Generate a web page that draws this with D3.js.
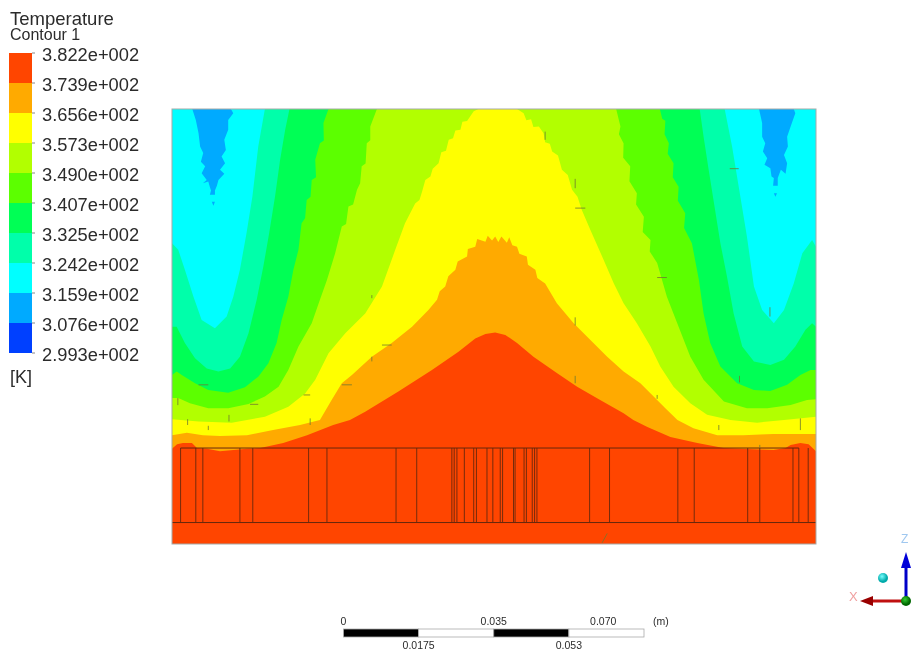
<!DOCTYPE html>
<html>
<head>
<meta charset="utf-8">
<script src="https://cdn.jsdelivr.net/npm/d3@7"></script>
<style>
  html, body { margin: 0; padding: 0; background: #fff; overflow: hidden; }
  svg { display: block; font-family: 'Liberation Sans', Arial, sans-serif; }
</style>
</head>
<body>
<script>
// legend levels, hottest first
const levelLabels = ['3.822e+002', '3.739e+002', '3.656e+002', '3.573e+002', '3.490e+002',
  '3.407e+002', '3.325e+002', '3.242e+002', '3.159e+002', '3.076e+002', '2.993e+002']

const iso3242 = [[0,77.1],[1.6,75.4],[3.3,70.3],[5.5,63.4],[7.6,57.4],[11,55.3],[14,58.3],[15.7,63.4],[17.4,70.3],[19.1,79.7],[20.6,89.1],[22.1,101.9],[23.8,111.5],
  [141.6,111.5],[143.5,101.9],[145.2,91.6],[147.3,78.8],[149.1,66],[151.2,60],[154.2,56.6],[156.8,60],[159.3,66.8],[161.5,74.5],[164,77.9],[165,76.2]]
const iso3325 = [[0,55.7],[1.2,55.7],[3.3,51.5],[5.9,47.6],[8.9,45],[11.9,44.2],[14.9,45],[17.4,48],[19.6,54],[21.7,62.6],[23.4,71.1],[24.9,79.7],[26.4,89.1],[27.7,98.5],[29,106.2],[30.1,111.5],
  [135.2,111.5],[136.2,104.4],[137.5,95.9],[139,86.5],[140.5,77.1],[142.2,68.5],[143.9,59.1],[146.1,50.6],[149.1,46.8],[153.3,45.9],[156.8,47.2],[159.7,50.6],[162.3,54.9],[164,56.6],[165,55.7]]
const iso3407 = [[0,43.3],[1.2,44.2],[2.5,43.3],[5.9,41.2],[9.3,39.5],[14.4,38.8],[18.7,40.2],[22.1,42.9],[24.7,46.3],[26.8,51.5],[28.1,57.4],[29.8,63.4],[31.1,70.3],[32.4,75.4],[33.2,82.2],[34.1,83.5],[34.5,88.2],[35.5,89],[35.8,93.3],[36.9,94],[36.7,98.5],[37.9,102.7],[38.9,103.4],[38.8,107.9],[40.1,111.5],
  [125,111.5],[125.6,109],[126.4,108.5],[126.2,105],[127.3,102.7],[127,100],[128.5,97.6],[128.3,94],[129.8,91.6],[129.6,88],[131.5,84.8],[131.2,81],[133.2,77.1],[135,67.7],[136.2,59.1],[137.9,51.5],[140.5,45.5],[144.8,41.2],[149.1,39.5],[153.3,39.2],[157.6,40.8],[161,43.3],[163.6,44.6],[165,44.6]]
const iso3490 = [[0,37.4],[1.6,37.4],[4.6,36.1],[9.3,34.8],[14.4,34.8],[19.6,35.9],[23.8,37.8],[27.3,40.3],[29.8,44.6],[32.4,50.6],[35.8,56.6],[37.9,62.6],[39.7,67.7],[41.8,74.5],[43.5,81.4],[44.6,82],[45.2,86.5],[46.4,87],[47.4,90.8],[48.2,92.5],[48.6,96.8],[49.6,97.5],[49.9,102.7],[50.8,103.5],[50.8,107],[52.5,111.5],
  [113.8,111.5],[114.9,107],[114.5,105],[115.7,102.7],[115.6,99],[117.4,96.8],[117.2,93],[119.1,89.9],[118.9,87],[120.9,83.9],[120.6,80],[122.6,77.9],[122.4,75],[124.3,72],[126.8,63.4],[129.8,55.7],[132.8,48],[136.2,42.1],[141.4,36.5],[147.3,34.8],[152.5,34.8],[158.5,35.6],[162.7,36.9],[165,37.1]]
const iso3573 = [[0,32],[6.8,31.4],[15.3,31.1],[23.8,32.6],[29.8,35.2],[34.1,38.6],[36.7,42.1],[40.1,48.9],[44.4,54],[49.5,59.1],[53.8,66],[57.2,75.4],[59.7,82.2],[62.3,87.3],[63.4,88.2],[64.1,90.4],[64.9,93.3],[66.2,94.2],[66.8,96.2],[68.3,97.6],[69,100.4],[70.2,100.8],[70.9,103.6],[72,104],[72.6,106],[73.9,106.2],[74.4,108.2],[75.6,108.4],[77.3,110.9],[78.5,111.5],
  [88.4,111.5],[90.1,110.4],[90.8,108.6],[92,108.9],[92.6,106.9],[94,107],[95.2,105.3],[95.6,103],[96.8,102.6],[97.4,100.6],[98.9,99.6],[99.9,95.9],[101.4,94.6],[102.5,90.8],[103.9,89],[105,85.6],[107.2,80.5],[110.6,72.8],[113.2,66.8],[115.7,61.7],[119.1,56.6],[122.6,50.6],[125.1,45.5],[128.5,40.3],[132.8,36.1],[137.1,33.1],[143.1,31.8],[149.9,31.1],[156.8,31.8],[165,32.6]]
const iso3656 = [[0,27.9],[3.8,28.5],[7.9,27.9],[12.3,27.7],[19.2,27.9],[25.9,29.2],[32.8,30.5],[37.9,31.8],[40.9,36.9],[43.5,41.2],[46.1,43.3],[51.2,48],[56.3,51.5],[61.5,55.7],[65.7,60],[67.9,62.6],[68.6,64.8],[70,66],[70.8,68.6],[72.6,70.3],[73.2,72.4],[75.6,73.7],[75.8,75.6],[77.7,76.2],[78.2,78.2],[80.3,77.5],[80.9,79],[82,77.8],[82.8,78.8],
  [83.6,77.4],[84.4,78.8],[85.8,77.2],[86.4,78.6],[87.2,76.6],[88.4,76.2],[89,74.4],[90.9,73.7],[91.2,71.6],[93.1,70.3],[93.6,68.2],[95.6,66.8],[98.6,61.7],[102.9,56.6],[107.2,52.3],[111.5,48],[115.7,44.2],[120,41.2],[123.4,37.8],[126.4,34.8],[129.5,31.8],[133.6,29.7],[139.7,27.9],[146.4,27.9],[154.1,28.2],[165,28.2]]
const iso3739 = [[0,24.4],[1.3,25.6],[2.8,25.9],[5.1,25.9],[6.4,24.6],[9,24.4],[12.3,23.8],[19.2,24.4],[22.6,24.6],[28.5,25.9],[34.6,27.9],[41.3,30.5],[45.6,31.8],[49.5,33.9],[58,39.1],[66.6,44.6],[73.4,49.3],[77.7,52.7],[80.3,53.8],[82.8,54.2],
  [85.4,53.6],[88.4,51.5],[92.6,48],[98.6,43.8],[103.8,40.3],[109.7,36.9],[115.7,33.5],[118.2,31.8],[121.8,30],[127.7,27.4],[134.6,25.9],[141.3,24.6],[145.6,24.4],[154.1,24.1],[157.2,24.6],[158.5,25.4],[161,25.9],[163.1,25.6],[165,23.8]]

// the cold pockets under the top edge and the specks below their tips
const pocketLeft = [[5.2,111.5],[6.1,108.7],[6.8,105.3],[7.2,101.9],[8,100.2],[7.4,98],[8.5,96.8],[7.6,95],[8.9,93.3],[7.9,92.5],[9.3,92.9],[9.7,91.5],[10,90.6],[9.7,89.5],[11,89.5],[11,90.6],[11.5,91.8],[11.9,93.3],[13.4,94.9],[12.3,95.9],[13.6,97.6],[12.7,99.3],[13.8,101],[13.4,103.6],[14.4,106.2],[14.4,108.7],[15.7,110.4],[15.1,111.5]]
const pocketRight = [[150.4,111.5],[151.2,107.9],[151.2,104.4],[152,102.7],[151.4,100.6],[152.5,98.9],[151.8,97.2],[153.3,96.3],[153.6,94.2],[154.2,93.8],[154,91.8],[155.2,91.8],[155.2,93.8],[156,95.9],[157.2,94.9],[157.6,97.6],[156.8,99.7],[157.8,101.9],[157.6,104.4],[158.5,107],[159.7,110.4],[159.3,111.5]]
const speckLeft = [[10.2,87.7],[11,87.7],[10.6,86.7]]
const speckRight = [[154.2,89.9],[155,89.9],[154.6,89]]

// wall positions inside the lower block
const wallX = [2.2, 6.1, 7.9, 17.4, 20.7, 35, 39.7, 57.4, 62.7, 71.7, 72.3, 73, 74.9, 77.3, 78, 80.7, 82.2, 84.1, 84.7, 87.5, 87.9, 90.2, 90.8, 92.3, 92.9, 93.5, 107, 112.1, 129.6, 133.8, 147.5, 150.6, 159.1, 160.6, 163]
const blockTop = 24.6
const blockFloor = 5.5

// short stray mesh edges, [x1, y1, x2, y2]
const strayEdges = [[6.8,40.8,9.3,40.8],[33.7,38.2,35.4,38.2],[43.5,40.8,46.1,40.8],[53.8,51,56.3,51],[20,35.8,22.1,35.8],
  [1.5,37.4,1.5,35.6],[4,32,4,30.5],[9.3,30.3,9.3,29.2],[14.6,33.1,14.6,31.4],[35.4,32.2,35.4,30.5],[51.2,48,51.2,46.8],[51.2,63.8,51.2,63],
  [95.6,105.7,95.6,103.6],[103.3,93.6,103.3,91.2],[103.3,86.1,105.9,86.1],[142.9,96.2,145.2,96.2],[124.3,68.3,126.8,68.3],[153.2,60.7,153.2,58.3],
  [103.3,58.1,103.3,56],[103.3,43.1,103.3,41.2],[145.4,43.1,145.4,41.4],[124.3,38.2,124.3,37.2],[140.1,30.5,140.1,29.2],[161,32.2,161,29.2],
  [111.5,2.7,110.2,0.3],[150.6,25.4,150.6,24.6]]

// scale bar
const barTicks = [0, 0.0175, 0.035, 0.0525, 0.07]
const barTopLabels = [[0, '0'], [0.035, '0.035'], [0.0605, '0.070']]
const barBottomLabels = [[0.0175, '0.0175'], [0.0525, '0.053']]

const outerWidth = 911
const outerHeight = 651

// colors, hottest band first
const bandColors = ['#ff4500', '#ffaa00', '#ffff00', '#b2ff00', '#5cff00', '#00ff55', '#00ffaa', '#00ffff', '#00aaff', '#0040ff']
const textColor = '#2b2b2b'
const wallColor = '#66280c'
const frameColor = '#a5aaa8'

const svg = d3.select('body')
  .append('svg')
  .attr('width', outerWidth)
  .attr('height', outerHeight)
  .style('filter', 'blur(0.45px)')

// contour plot
const xScale = d3.scaleLinear().domain([0, 165]).range([172, 816])
const yScale = d3.scaleLinear().domain([0, 111.5]).range([544, 109])

const line = d3.line().x(d => xScale(d[0])).y(d => yScale(d[1]))
const plot = svg.append('g').attr('class', 'plot')

plot.append('rect')
  .attr('x', xScale(0))
  .attr('y', yScale(111.5))
  .attr('width', xScale(165) - xScale(0))
  .attr('height', yScale(0) - yScale(111.5))
  .attr('fill', bandColors[7])

// each isotherm closes down to the floor, painted coolest to hottest
const isotherms = [iso3242, iso3325, iso3407, iso3490, iso3573, iso3656, iso3739]
plot.selectAll('.band')
  .data(isotherms)
  .enter()
  .append('path')
  .attr('class', 'band')
  .attr('d', d => line(d.concat([[165, 0], [0, 0]])) + 'Z')
  .attr('fill', (d, i) => bandColors[6 - i])

plot.selectAll('.pocket')
  .data([pocketLeft, pocketRight, speckLeft, speckRight])
  .enter()
  .append('path')
  .attr('class', 'pocket')
  .attr('d', d => line(d) + 'Z')
  .attr('fill', bandColors[8])

// walls of the block
plot.selectAll('.wall')
  .data(wallX)
  .enter()
  .append('line')
  .attr('class', 'wall')
  .attr('x1', d => xScale(d))
  .attr('x2', d => xScale(d))
  .attr('y1', yScale(blockTop))
  .attr('y2', yScale(blockFloor))
  .attr('stroke', wallColor)
  .attr('stroke-width', 0.9)

plot.append('line')
  .attr('x1', xScale(wallX[0]))
  .attr('x2', xScale(wallX[33]))
  .attr('y1', yScale(blockTop))
  .attr('y2', yScale(blockTop))
  .attr('stroke', wallColor)

plot.append('line')
  .attr('x1', xScale(0))
  .attr('x2', xScale(165))
  .attr('y1', yScale(blockFloor))
  .attr('y2', yScale(blockFloor))
  .attr('stroke', wallColor)

plot.selectAll('.stray')
  .data(strayEdges)
  .enter()
  .append('line')
  .attr('class', 'stray')
  .attr('x1', d => xScale(d[0]))
  .attr('y1', d => yScale(d[1]))
  .attr('x2', d => xScale(d[2]))
  .attr('y2', d => yScale(d[3]))
  .attr('stroke', '#6f7a30')
  .attr('stroke-width', 0.8)

plot.append('rect')
  .attr('x', xScale(0))
  .attr('y', yScale(111.5))
  .attr('width', xScale(165) - xScale(0))
  .attr('height', yScale(0) - yScale(111.5))
  .attr('fill', 'none')
  .attr('stroke', frameColor)

// legend
const legendY = d3.scalePoint().domain(levelLabels).range([53, 353])
const legend = svg.append('g').attr('class', 'legend')

legend.selectAll('.swatch')
  .data(bandColors)
  .enter()
  .append('rect')
  .attr('class', 'swatch')
  .attr('x', 9)
  .attr('width', 23)
  .attr('y', (d, i) => legendY(levelLabels[i]))
  .attr('height', legendY.step())
  .attr('fill', d => d)

legend.selectAll('.level')
  .data(levelLabels)
  .enter()
  .append('text')
  .attr('class', 'level')
  .attr('x', 42)
  .attr('y', d => legendY(d) + 8)
  .attr('font-size', 18.3)
  .attr('fill', textColor)
  .text(d => d)

legend.selectAll('.mark')
  .data(levelLabels)
  .enter()
  .append('line')
  .attr('class', 'mark')
  .attr('x1', 32)
  .attr('x2', 35)
  .attr('y1', d => legendY(d))
  .attr('y2', d => legendY(d))
  .attr('stroke', '#888')

const legendTitles = [['Temperature', 25, 18.5], ['Contour 1', 40, 16], ['[K]', 383, 18]]
legend.selectAll('.title')
  .data(legendTitles)
  .enter()
  .append('text')
  .attr('class', 'title')
  .attr('x', 10)
  .attr('y', d => d[1])
  .attr('font-size', d => d[2])
  .attr('fill', textColor)
  .text(d => d[0])

// scale bar
const barScale = d3.scaleLinear().domain([0, 0.07]).range([343.5, 644])
const bar = svg.append('g').attr('class', 'scale-bar')

bar.selectAll('.seg')
  .data(d3.pairs(barTicks))
  .enter()
  .append('rect')
  .attr('class', 'seg')
  .attr('x', d => barScale(d[0]))
  .attr('width', d => barScale(d[1]) - barScale(d[0]))
  .attr('y', 629)
  .attr('height', 8)
  .attr('fill', (d, i) => (i % 2 ? '#fff' : '#000'))
  .attr('stroke', '#aaa')
  .attr('stroke-width', 0.8)

bar.selectAll('.top-label')
  .data(barTopLabels)
  .enter()
  .append('text')
  .attr('class', 'top-label')
  .attr('x', d => barScale(d[0]))
  .attr('y', 625)
  .attr('text-anchor', 'middle')
  .attr('font-size', 10.5)
  .attr('fill', textColor)
  .text(d => d[1])

bar.append('text')
  .attr('x', 653)
  .attr('y', 625)
  .attr('font-size', 10.5)
  .attr('fill', textColor)
  .text('(m)')

bar.selectAll('.bottom-label')
  .data(barBottomLabels)
  .enter()
  .append('text')
  .attr('class', 'bottom-label')
  .attr('x', d => barScale(d[0]))
  .attr('y', 649)
  .attr('text-anchor', 'middle')
  .attr('font-size', 10.5)
  .attr('fill', textColor)
  .text(d => d[1])

// orientation triad
const triad = svg.append('g').attr('class', 'triad')

svg.append('defs').html(`
  <radialGradient id="ballCyan" cx="40%" cy="35%"><stop offset="0%" stop-color="#7ff"/><stop offset="100%" stop-color="#0aa"/></radialGradient>
  <radialGradient id="ballGreen" cx="40%" cy="35%"><stop offset="0%" stop-color="#3c3"/><stop offset="100%" stop-color="#060"/></radialGradient>`)

triad.append('line')
  .attr('x1', 906).attr('y1', 601).attr('x2', 906).attr('y2', 566)
  .attr('stroke', '#0000c8').attr('stroke-width', 3)
triad.append('path').attr('d', 'M906,552L901,568L911,568Z').attr('fill', '#0000d8')
triad.append('line')
  .attr('x1', 906).attr('y1', 601).attr('x2', 872).attr('y2', 601)
  .attr('stroke', '#c01010').attr('stroke-width', 3)
triad.append('path').attr('d', 'M860,601L873,596L873,606Z').attr('fill', '#900')
triad.append('circle').attr('cx', 906).attr('cy', 601).attr('r', 5).attr('fill', 'url(#ballGreen)')
triad.append('circle').attr('cx', 883).attr('cy', 578).attr('r', 5).attr('fill', 'url(#ballCyan)')
triad.append('text').attr('x', 849).attr('y', 601).attr('font-size', 13).attr('fill', '#f0a0a0').text('X')
triad.append('text').attr('x', 901).attr('y', 543).attr('font-size', 12).attr('fill', '#a0c8f0').text('Z')
</script>
</body>
</html>
